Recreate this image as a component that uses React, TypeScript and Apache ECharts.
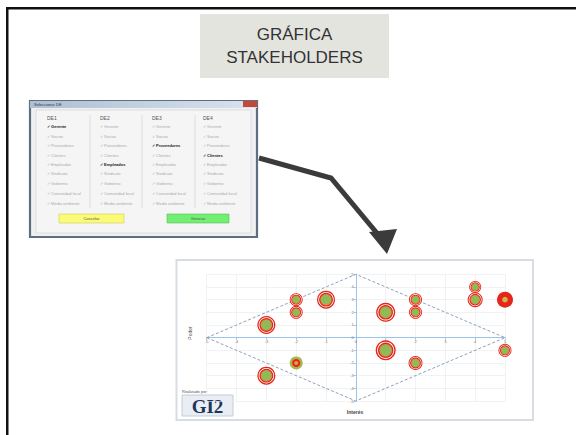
import React, { useEffect, useRef } from "react";
import * as echarts from "echarts";

// Bubble chart data (Interés on x, Poder on y)
const interes = [-3, -2, -2, -1, 1, 2, 2, 4, 4, 5, 5, 2, 1, -2, -3];
const poder = [1, 3, 2, 3, 2, 3, 2, 4, 3, 3, -1, -2, -1, -2, -3];
const peso = [9, 6.5, 6.5, 9, 9.5, 6.5, 6.5, 6, 7.5, 8, 6.5, 7, 10, 6.5, 9];
// 0 = ringed bubble, 1 = solid red, 2 = green outer / red inner
const variante = [0, 0, 0, 0, 0, 0, 0, 0, 0, 1, 0, 0, 0, 2, 0];
const diamante = [
  [-5, 0],
  [0, 5],
  [5, 0],
  [0, -5],
  [-5, 0],
];

// Dialog screenshot contents
const grupos = ["DE1", "DE2", "DE3", "DE4"];
const filas = [
  "Gerente",
  "Socios",
  "Proveedores",
  "Clientes",
  "Empleados",
  "Sindicato",
  "Gobierno",
  "Comunidad local",
  "Medio ambiente",
];
const marcados = [0, 4, 2, 3]; // highlighted row per group

const RED = "#e5241b";
const GREEN = "#8fba58";

const GRID = { left: 206.7, top: 274.3, width: 298.3, height: 126.7 };

export default function App() {
  const ref = useRef<HTMLDivElement>(null);

  useEffect(() => {
    if (!ref.current) return;
    const chart = echarts.init(ref.current, null, { renderer: "svg" });

    const colX = [45, 98, 150, 201];
    const rowY = [126, 136, 145, 155, 164, 173, 183, 193, 203];

    const dialog: any[] = [
      {
        type: "rect",
        shape: { x: 30, y: 101, width: 227, height: 136 },
        style: { fill: "#eef0f2", stroke: "#5e6f83", lineWidth: 2.2 },
      },
      {
        type: "rect",
        shape: { x: 30, y: 101, width: 227, height: 7 },
        style: {
          fill: new echarts.graphic.LinearGradient(0, 0, 1, 0, [
            { offset: 0, color: "#aebfd2" },
            { offset: 1, color: "#d9e3ee" },
          ]),
        },
      },
      {
        type: "text",
        style: { x: 34, y: 104.5, text: "Seleccionar DE", fontSize: 4, fill: "#333", verticalAlign: "middle", fontFamily: "Liberation Sans" },
      },
      {
        type: "rect",
        shape: { x: 243, y: 101, width: 14, height: 6 },
        style: { fill: "#c4483a" },
      },
      {
        type: "rect",
        shape: { x: 36, y: 110, width: 215, height: 123 },
        style: { fill: "#f5f5f5", stroke: "#d0d0d0", lineWidth: 0.6 },
      },
    ];
    [90, 142, 195].forEach((x) => {
      dialog.push({
        type: "line",
        shape: { x1: x, y1: 115, x2: x, y2: 208 },
        style: { stroke: "#cfcfcf", lineWidth: 0.6 },
      });
    });
    grupos.forEach((g, gi) => {
      dialog.push({
        type: "text",
        style: { x: colX[gi] + 2, y: 118, text: g, fontSize: 5, fill: "#555", verticalAlign: "middle", fontFamily: "Liberation Sans" },
      });
      filas.forEach((f, fi) => {
        const on = marcados[gi] === fi;
        dialog.push({
          type: "text",
          style: {
            x: colX[gi] + 2,
            y: rowY[fi],
            text: "✓ " + f,
            fontSize: 4,
            fontWeight: on ? "bold" : "normal",
            fill: on ? "#222" : "#aaa",
            verticalAlign: "middle",
            fontFamily: "Liberation Sans",
          },
        });
      });
    });
    dialog.push(
      {
        type: "rect",
        shape: { x: 59, y: 214, width: 65, height: 9 },
        style: { fill: "#fbfb78", stroke: "#cfcf55", lineWidth: 0.6 },
      },
      {
        type: "text",
        style: { x: 91.5, y: 218.5, text: "Cancelar", fontSize: 4, fill: "#555", align: "center", verticalAlign: "middle", fontFamily: "Liberation Sans" },
      },
      {
        type: "rect",
        shape: { x: 167, y: 214, width: 62, height: 9 },
        style: { fill: "#72ee72", stroke: "#55c055", lineWidth: 0.6 },
      },
      {
        type: "text",
        style: { x: 198, y: 218.5, text: "Generar", fontSize: 4, fill: "#555", align: "center", verticalAlign: "middle", fontFamily: "Liberation Sans" },
      }
    );

    const graphic: any[] = [
      // slide borders
      { type: "rect", shape: { x: 6, y: 7, width: 570, height: 2.5 }, style: { fill: "#111" } },
      { type: "rect", shape: { x: 6, y: 7, width: 2.5, height: 428 }, style: { fill: "#111" } },
      // title box
      { type: "rect", shape: { x: 200, y: 14, width: 189, height: 64 }, style: { fill: "#e4e4df" } },
      {
        type: "text",
        style: { x: 294.5, y: 34, text: "GRÁFICA", fontSize: 17, fill: "#333", align: "center", verticalAlign: "middle", fontFamily: "Liberation Sans" },
      },
      {
        type: "text",
        style: { x: 294.5, y: 57, text: "STAKEHOLDERS", fontSize: 17, fill: "#333", align: "center", verticalAlign: "middle", fontFamily: "Liberation Sans" },
      },
      ...dialog,
      // arrow
      {
        type: "polyline",
        shape: { points: [[259, 158], [331, 178], [381, 238]] },
        style: { stroke: "#3b3b3b", lineWidth: 5, fill: "none" },
      },
      {
        type: "polygon",
        shape: { points: [[369, 232], [397, 229], [387, 254]] },
        style: { fill: "#3b3b3b" },
      },
      // chart panel
      {
        type: "rect",
        shape: { x: 176.5, y: 260, width: 356.5, height: 160 },
        style: { fill: "none", stroke: "#d8dde3", lineWidth: 2 },
      },
      {
        type: "text",
        x: 190,
        y: 333,
        rotation: Math.PI / 2,
        style: { x: 0, y: 0, text: "Poder", fontSize: 5, fill: "#555", align: "center", verticalAlign: "middle", fontFamily: "Liberation Sans" },
      },
      {
        type: "text",
        style: { x: 355, y: 412, text: "Interés", fontSize: 5, fontWeight: "bold", fill: "#444", align: "center", verticalAlign: "middle", fontFamily: "Liberation Sans" },
      },
      {
        type: "text",
        style: { x: 182, y: 391, text: "Realizado por:", fontSize: 4, fill: "#555", verticalAlign: "middle", fontFamily: "Liberation Sans" },
      },
      {
        type: "rect",
        shape: { x: 182, y: 395, width: 51, height: 21 },
        style: { fill: "#e9eef4", stroke: "#b8c2cc", lineWidth: 0.8 },
      },
      {
        type: "text",
        style: { x: 207.5, y: 406, text: "GI2", fontSize: 19, fontWeight: "bold", fill: "#1e3658", align: "center", verticalAlign: "middle", fontFamily: "Liberation Serif" },
      },
    ];

    const bubbleData = interes.map((x, i) => [x, poder[i], peso[i], variante[i]]);

    const axisCommon = {
      type: "value" as const,
      min: -5,
      max: 5,
      interval: 1,
      axisLine: { onZero: false, lineStyle: { color: "#9cc4e6", width: 1 } },
      axisTick: { show: true, length: 2, lineStyle: { color: "#9cc4e6" } },
      axisLabel: { fontSize: 4, color: "#777", margin: 2, fontFamily: "Liberation Sans" },
      splitLine: { show: true, lineStyle: { color: "#e7e9ec", width: 0.6 } },
    };

    chart.setOption({
      animation: false,
      backgroundColor: "#ffffff",
      grid: { ...GRID, show: false },
      xAxis: { ...axisCommon, position: "bottom", offset: -GRID.height / 2 },
      yAxis: { ...axisCommon, position: "left", offset: -GRID.width / 2 },
      graphic,
      series: [
        {
          type: "line",
          data: diamante,
          symbol: "none",
          lineStyle: { color: "#8ca2ba", width: 1, type: [3, 2] },
          z: 3,
        },
        {
          type: "custom",
          data: bubbleData,
          z: 5,
          renderItem: (params: any, api: any) => {
            const p = api.coord([api.value(0), api.value(1)]);
            const r = api.value(2);
            const v = api.value(3);
            const c = (rr: number, fill: string) => ({
              type: "circle",
              shape: { cx: p[0], cy: p[1], r: rr },
              style: { fill },
            });
            let children: any[];
            if (v === 1) {
              children = [c(r, RED), c(r * 0.35, "#c8b84a")];
            } else if (v === 2) {
              children = [c(r, "#a9b64c"), c(r * 0.62, RED), c(r * 0.32, "#d6a043")];
            } else {
              children = [
                c(r, RED),
                c(r * 0.86, "#ffffff"),
                c(r * 0.77, RED),
                c(r * 0.64, "#e0883a"),
                c(r * 0.56, GREEN),
              ];
            }
            return { type: "group", children };
          },
        },
      ],
    });

    return () => chart.dispose();
  }, []);

  return (
    <div
      ref={ref}
      style={{ position: "fixed", left: 0, top: 0, width: 576, height: 435, background: "#fff" }}
    />
  );
}
